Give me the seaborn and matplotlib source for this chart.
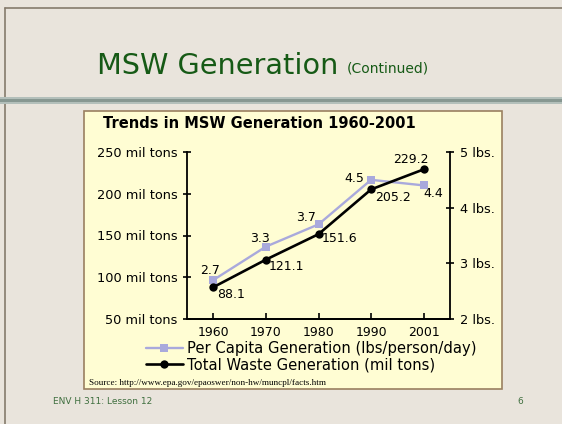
import numpy as np
import pandas as pd
import seaborn as sns
from matplotlib import pyplot as plt
from matplotlib.patches import Rectangle
from matplotlib.lines import Line2D

years = ["1960", "1970", "1980", "1990", "2001"]
total_tons = [88.1, 121.1, 151.6, 205.2, 229.2]
per_capita = [2.7, 3.3, 3.7, 4.5, 4.4]
left_ticks = [50, 100, 150, 200, 250]
right_ticks = [2, 3, 4, 5]

df = pd.DataFrame({"pos": np.arange(len(years)), "year": years,
                   "total": total_tons, "capita": per_capita})

sns.set_style("ticks")
plt.rcParams['font.family'] = ['DejaVu Sans']
plt.rcParams['text.color'] = 'black'
plt.rcParams['xtick.color'] = 'black'
plt.rcParams['ytick.color'] = 'black'
plt.rcParams['axes.edgecolor'] = 'black'

W, H = 562, 424
fig = plt.figure(figsize=(W / 100, H / 100), dpi=100, facecolor="#e9e4dc")

def fx(px):
    return px / W

def fy(py):
    return 1 - py / H

# slide frame + divider band (kept behind the axes)
fig.add_artist(Line2D([fx(5), fx(5)], [0, fy(8)], color="#857b6c", lw=1.2, zorder=-5))
fig.add_artist(Line2D([fx(5), 1], [fy(8), fy(8)], color="#857b6c", lw=1.2, zorder=-5))
fig.add_artist(Rectangle((0, fy(104)), 1, 7 / H, color="#b3bfba", lw=0, zorder=-5))
fig.add_artist(Rectangle((0, fy(102)), 1, 3 / H, color="#879791", lw=0, zorder=-5))

fig.text(fx(97), fy(66), "MSW Generation", fontsize=20.7, color="#165a16", va="center")
fig.text(fx(347), fy(68), "(Continued)", fontsize=10, color="#165a16", va="center")
fig.text(fx(53), fy(402), "ENV H 311: Lesson 12", fontsize=6.5, color="#3f6f3f", va="center")
fig.text(fx(517), fy(402), "6", fontsize=6.5, color="#3f6f3f", va="center")

# yellow chart panel
fig.add_artist(Rectangle((fx(84), fy(389)), 418 / W, 278 / H, facecolor="#fffdd3",
                         edgecolor="#9a8060", lw=1.2, zorder=-4))
fig.text(fx(103), fy(124), "Trends in MSW Generation 1960-2001", fontsize=10.5,
         fontweight="bold", va="center")
fig.text(fx(89), fy(383), "Source: http://www.epa.gov/epaoswer/non-hw/muncpl/facts.htm",
         fontsize=6.6, family="Liberation Serif", va="center")

ax = fig.add_axes([fx(187), fy(319), (450 - 187) / W, (319 - 152) / H])
ax2 = ax.twinx()
ax2.set_zorder(1)
ax.set_zorder(2)
ax.patch.set_visible(False)
ax2.patch.set_visible(False)

lav = "#a9a9dc"
sns.lineplot(data=df, x="pos", y="capita", ax=ax2, color=lav, lw=1.7, marker="s",
             markersize=6, markeredgewidth=0, label="Per Capita Generation (lbs/person/day)")
sns.lineplot(data=df, x="pos", y="total", ax=ax, color="black", lw=1.9, marker="o",
             markersize=6, markeredgewidth=0, label="Total Waste Generation (mil tons)")

ax.set_xlim(-0.5, 4.5)
ax.set_ylim(50, 250)
ax2.set_ylim(2, 5)
ax.set_xticks(df["pos"], years)
ax.set_yticks(left_ticks, [f"{t} mil tons" for t in left_ticks])
ax2.set_yticks(right_ticks, [f"{t} lbs." for t in right_ticks])
for a in (ax, ax2):
    a.set_xlabel("")
    a.set_ylabel("")
    a.spines["top"].set_visible(False)
    for s in a.spines.values():
        s.set_linewidth(1.3)
ax.spines["right"].set_visible(False)
ax2.spines["left"].set_visible(False)
ax.tick_params(axis="x", direction="in", length=4, width=1.2, labelsize=9, pad=5)
ax.tick_params(axis="y", direction="inout", length=6, width=1.2, labelsize=9.3, pad=4)
ax2.tick_params(axis="y", direction="inout", length=6, width=1.2, labelsize=9.3, pad=4)

cap_off = [(-2, 7), (-4, 6), (-9, 5), (-12, 1), (7, -6)]
tot_off = [(13, -5), (15, -5), (15, -3), (16, -6), (-9, 7)]
for i in range(len(years)):
    ax2.annotate(f"{per_capita[i]}", (i, per_capita[i]), xytext=cap_off[i],
                 textcoords="offset points", ha="center", va="center", fontsize=9)
    ax.annotate(f"{total_tons[i]}", (i, total_tons[i]), xytext=tot_off[i],
                textcoords="offset points", ha="center", va="center", fontsize=9)

h1, l1 = ax2.get_legend_handles_labels()
h2, l2 = ax.get_legend_handles_labels()
ax2.get_legend().remove()
ax.legend(h1 + h2, l1 + l2, loc="upper left", bbox_to_anchor=(fx(146), fy(341)),
          bbox_transform=fig.transFigure, frameon=False, borderpad=0, borderaxespad=0,
          handlelength=2.5, handletextpad=0.3, labelspacing=0.1, fontsize=10.6)

fig.savefig("out.png", dpi=100, facecolor=fig.get_facecolor())
